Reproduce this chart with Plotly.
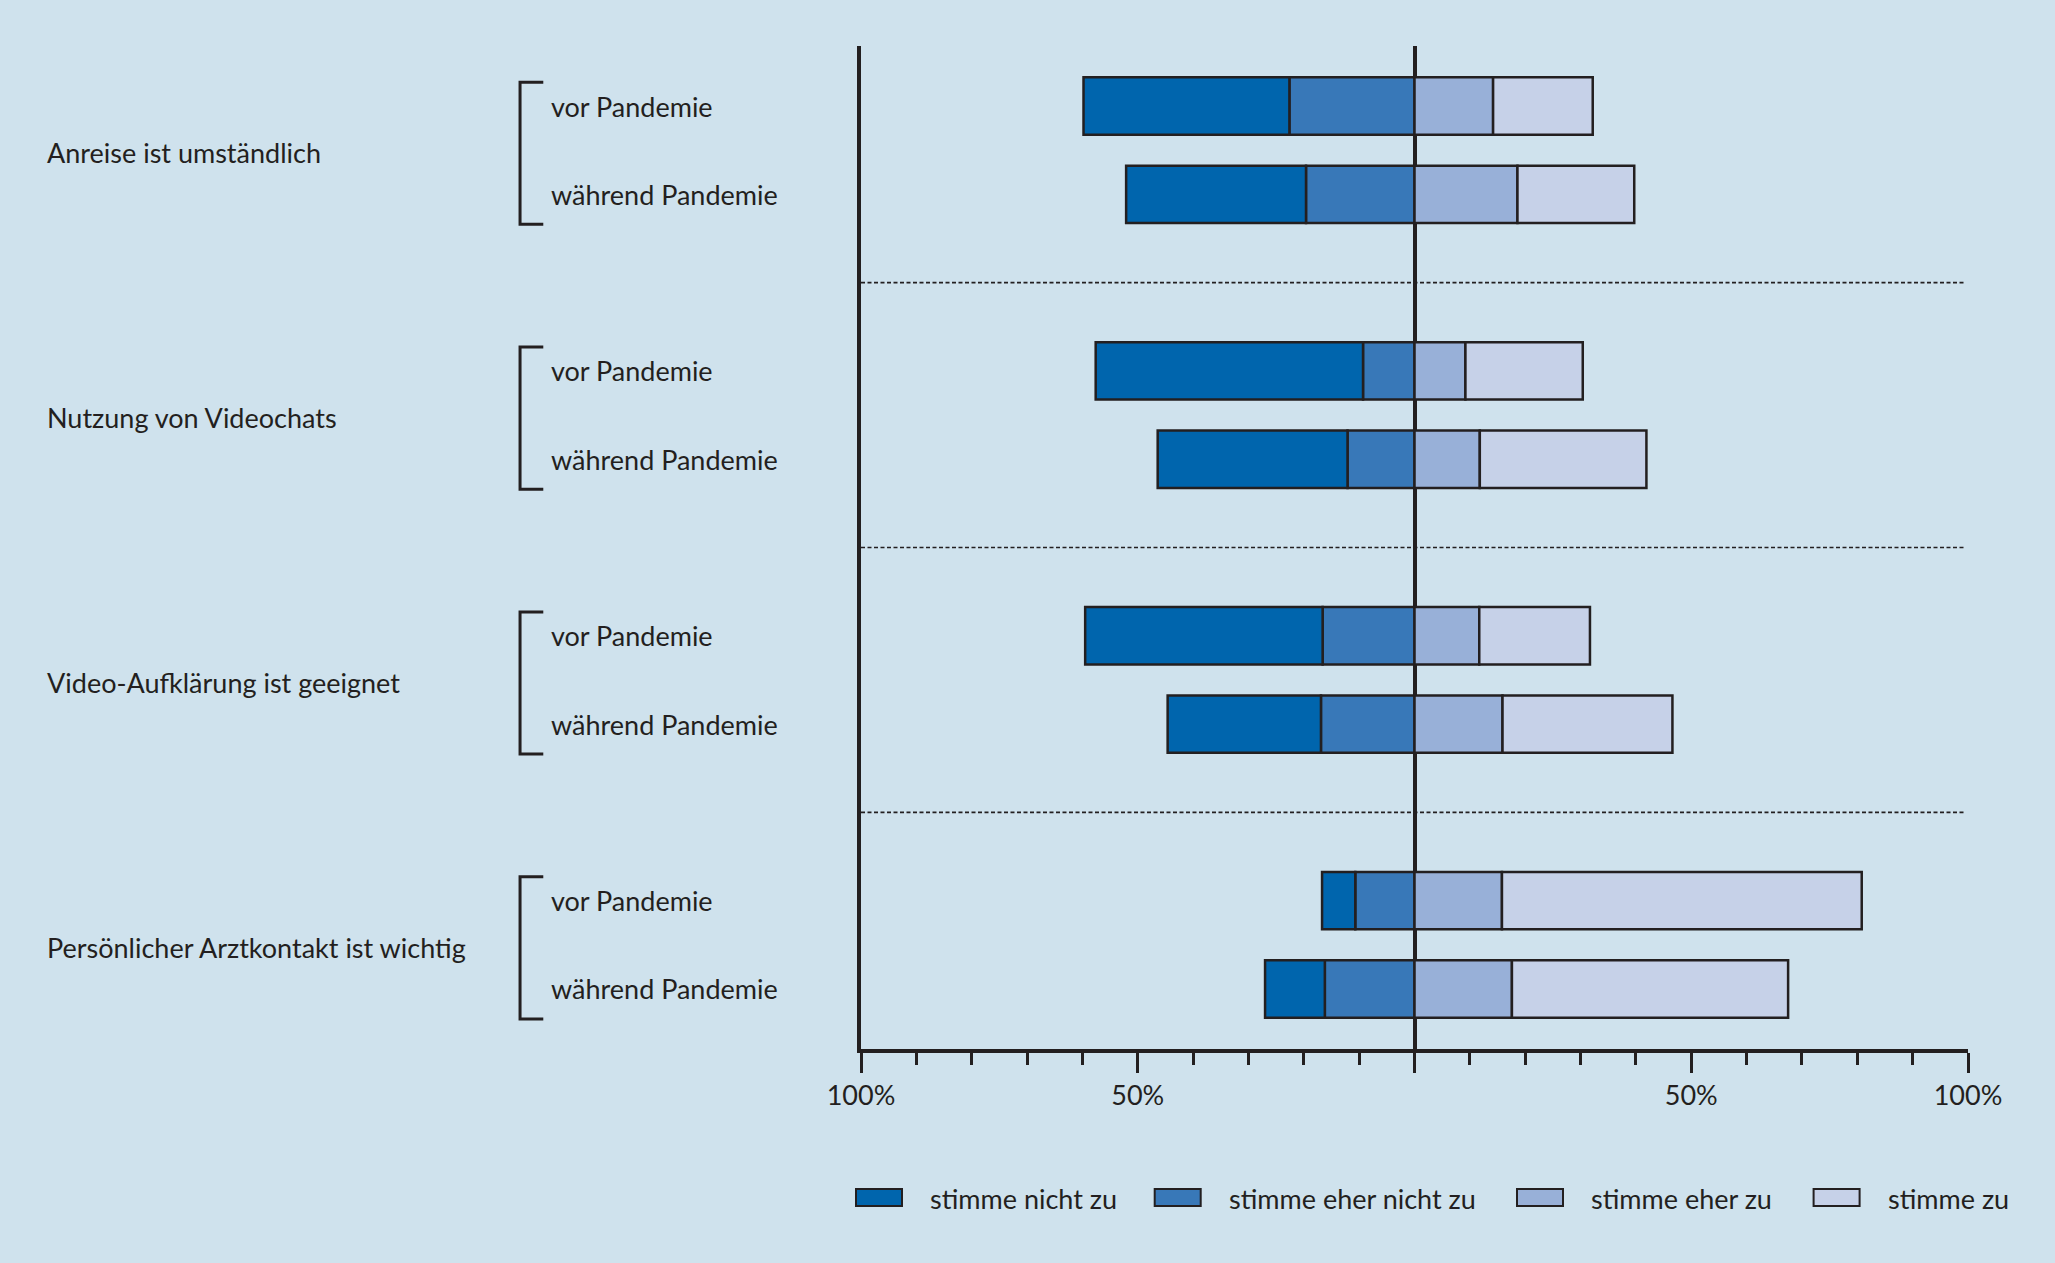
import plotly.graph_objects as go

# Themen und Zeitpunkte
topics = ["Anreise ist umständlich", "Nutzung von Videochats",
          "Video-Aufklärung ist geeignet", "Persönlicher Arztkontakt ist wichtig"]
periods = ["vor Pandemie", "während Pandemie"]
answers = ["stimme nicht zu", "stimme eher nicht zu", "stimme eher zu", "stimme zu"]

# Anteile in % (Zeilen: je Thema vor / während Pandemie)
nicht_zu = [37.2, 32.5, 48.3, 34.3, 42.9, 27.7, 6.0, 10.8]
eher_nicht_zu = [22.6, 19.6, 9.3, 12.1, 16.6, 16.9, 10.7, 16.2]
eher_zu = [14.2, 18.6, 9.2, 11.8, 11.7, 15.9, 15.8, 17.6]
zu = [18.0, 21.1, 21.2, 30.1, 20.0, 30.7, 65.0, 49.9]

tick_vals = [-100, -50, 0, 50, 100]
tick_text = ["100%", "50%", "", "50%", "100%"]

colors = ["#0065ad", "#3878b8", "#98b0d8", "#c6d1e8"]
ink = "#231f20"
bg = "#cfe2ed"
font = "Lato"
fsize = 27

# zwei Balken pro Thema, eine Leerzeile dazwischen
y_pos = [3 * g + s for g in range(len(topics)) for s in range(len(periods))]

fig = go.Figure()
# relative Stapelung: negative Werte wachsen von 0 nach links
series = [
    (answers[1], [-v for v in eher_nicht_zu], colors[1]),
    (answers[0], [-v for v in nicht_zu], colors[0]),
    (answers[2], eher_zu, colors[2]),
    (answers[3], zu, colors[3]),
]
for name, vals, col in series:
    fig.add_trace(go.Bar(
        x=vals, y=y_pos, orientation="h", name=name, width=0.65,
        marker=dict(color=col, line=dict(color=ink, width=2.5)),
        showlegend=False,
    ))

shapes = []
# gestrichelte Trenner zwischen den Themen
for g in range(len(topics) - 1):
    shapes.append(dict(type="line", xref="x", yref="y", x0=-100, x1=99.3,
                       y0=3 * g + 2, y1=3 * g + 2,
                       line=dict(color=ink, width=1.6, dash="4px,2.5px")))

annotations = []
# Klammern und Beschriftungen links
bx0, bx1 = -0.308, -0.287
for g, t in enumerate(topics):
    top, bot = 3 * g - 0.27, 3 * g + 1.34
    shapes.append(dict(type="path", xref="paper", yref="y",
                       path=f"M {bx1},{top} L {bx0},{top} L {bx0},{bot} L {bx1},{bot}",
                       line=dict(color=ink, width=3)))
    annotations.append(dict(text=t, xref="paper", yref="y", x=-0.7369, y=3 * g + 0.53,
                            xanchor="left", yanchor="middle", showarrow=False,
                            font=dict(size=fsize, color=ink, family=font)))
    for s, p in enumerate(periods):
        annotations.append(dict(text=p, xref="paper", yref="y", x=-0.2815, y=3 * g + s,
                                xanchor="left", yanchor="middle", showarrow=False,
                                font=dict(size=fsize, color=ink, family=font)))

# eigene Legende mit breiten Rechtecken
leg_x = [856, 1154.7, 1517, 1813.6]
for i, a in enumerate(answers):
    x0 = (leg_x[i] - 861) / 1107
    shapes.append(dict(type="rect", xref="paper", yref="paper",
                       x0=x0, x1=x0 + 46 / 1107, y0=-0.1396, y1=-0.1565,
                       fillcolor=colors[i], line=dict(color=ink, width=2)))
    annotations.append(dict(text=a, xref="paper", yref="paper", x=x0 + 72 / 1107, y=-0.1495,
                            xanchor="left", yanchor="middle", showarrow=False,
                            font=dict(size=fsize, color=ink, family=font)))

fig.update_layout(
    width=2055, height=1263,
    barmode="relative",
    paper_bgcolor=bg, plot_bgcolor=bg,
    margin=dict(l=861, r=87, t=46, b=214),
    font=dict(family=font, size=fsize, color=ink),
    shapes=shapes, annotations=annotations,
    xaxis=dict(range=[-100, 100], tickvals=tick_vals, ticktext=tick_text,
               showgrid=False, zeroline=True, zerolinecolor=ink, zerolinewidth=3.5,
               showline=True, linecolor=ink, linewidth=3.5,
               ticks="outside", ticklen=20, tickwidth=3, tickcolor=ink,
               minor=dict(dtick=10, ticks="outside", ticklen=12, tickwidth=3, tickcolor=ink),
               tickfont=dict(size=fsize, color=ink, family=font)),
    yaxis=dict(range=[10.68, -0.68], showticklabels=False, showgrid=False,
               zeroline=False, showline=True, linecolor=ink, linewidth=3.5, ticks=""),
)

fig.write_html("out.html", config={"displayModeBar": False},
               post_script="document.body.style.margin='0';")
